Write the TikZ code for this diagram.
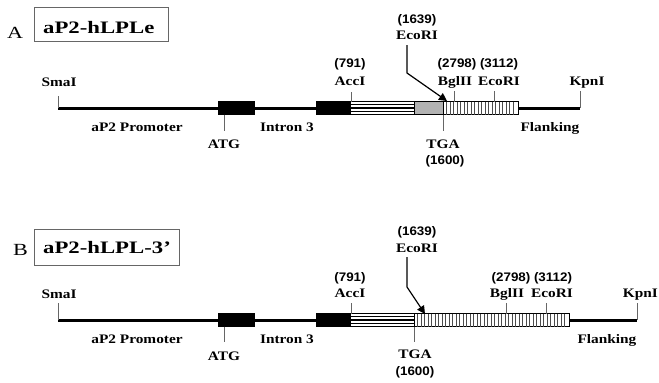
\documentclass[tikz,border=0pt]{standalone}
\usepackage{fontspec}
\setmainfont{Liberation Serif}
\newfontfamily\lblfont[FakeStretch=1.18]{Liberation Serif}
\newfontfamily\numfont[FakeStretch=1.08]{Liberation Sans}
\newfontfamily\ttlfont[FakeStretch=1.3]{Liberation Serif}
\usetikzlibrary{arrows.meta,positioning}

\begin{document}
\begin{tikzpicture}[x=1pt,y=-1pt,>=Latex,
  lbl/.style={font=\lblfont\bfseries\fontsize{13}{15}\selectfont,inner sep=0pt,anchor=base},
  num/.style={font=\numfont\bfseries\fontsize{12.4}{14}\selectfont,inner sep=0pt,anchor=base},
  panel/.style={font=\ttlfont\fontsize{17}{19}\selectfont,inner sep=0pt,anchor=base west},
  title/.style={draw=black!60,line width=0.8pt,inner sep=0pt},
  ttltext/.style={font=\ttlfont\bfseries\fontsize{17.5}{20}\selectfont,inner sep=0pt,anchor=base west},
  backbone/.style={line width=3pt},
  exon/.style={fill=black,draw=black},
  site/.style={black!60,line width=0.8pt},
  hstripe/.style={line width=1.1pt},
  vstripe/.style={black!70,line width=0.6pt},
  cutarrow/.style={->,line width=1.2pt,>={Triangle[length=8pt,width=8pt]}}]
\useasboundingbox (0,0) rectangle (659,383);

% ---------- panel A ----------
\node[panel] (labA) at (7,38) {A};
\node[title,minimum width=134pt,minimum height=34pt] (ttlA) at (101,24) {};
\node[ttltext] (ttlAtxt) at (43,33) {aP2-hLPLe};

\coordinate (smaA) at (58,108);
\coordinate (kpnA) at (580,108);
\draw[backbone] (smaA) -- (kpnA);
\draw[exon] (218,101.5) rectangle (254,114.5);
\draw[exon] (316,101.5) rectangle (351,114.5);
% 5' coding part, horizontal stripes
\fill[white] (351,101.5) rectangle (414,114.5);
\foreach \y in {101.5,104.75,...,115} \draw[hstripe] (351,\y) -- (414,\y);
% 3' UTR kept part
\draw[fill=black!30,line width=0.8pt] (414,101.5) rectangle (443,114.5);
% 3' UTR, vertical stripes
\draw[fill=white,line width=0.8pt] (443,101.5) rectangle (518,114.5);
\foreach \x in {446.5,450,...,516} \draw[vstripe] (\x,101.5) -- (\x,114.5);

\draw[site] (smaA) -- ++(0,-12);
\draw[site] (kpnA) -- ++(0,-17);
\draw[site] (224,114.5) -- (224,131);
\draw[site] (351,101.5) -- (351,92);
\draw[site] (443,114.5) -- (443,131);
\draw[site] (454,101.5) -- (454,91);
\draw[site] (494,101.5) -- (494,91);

\node[lbl] (smaAl) at (59,86) {SmaI};
\node[lbl] (proA) at (137,131) {aP2 Promoter};
\node[lbl] (atgA) at (224,148) {ATG};
\node[lbl] (intA) at (287,131) {Intron 3};
\node[num] (n791A) at (350,67) {(791)};
\node[lbl] (accA) at (350,85) {AccI};
\node[num] (n1639A) at (417,23) {(1639)};
\node[lbl] (ecoA) at (417,39.5) {EcoRI};
\node[num] (n2798A) at (457,67) {(2798)};
\node[lbl] (bglA) at (455,85) {BglII};
\node[num] (n3112A) at (499,67) {(3112)};
\node[lbl] (eco2A) at (499,85) {EcoRI};
\node[lbl] (kpnAl) at (587,85) {KpnI};
\node[lbl] (tgaA) at (443,148) {TGA};
\node[num] (n1600A) at (445,164) {(1600)};
\node[lbl] (flkA) at (550,131) {Flanking};

\coordinate (cutA) at (407,45);
\coordinate (bendA) at (407,73);
\coordinate (tipA) at (447,101);
\draw[cutarrow] (cutA) -- (bendA) -- (tipA);

% ---------- panel B ----------
\node[panel] (labB) at (13,255) {B};
\node[title,minimum width=145pt,minimum height=36pt] (ttlB) at (106.5,247) {};
\node[ttltext] (ttlBtxt) at (43,253) {aP2-hLPL-3’};

\coordinate (smaB) at (58,320);
\coordinate (kpnB) at (637,320);
\draw[backbone] (smaB) -- (kpnB);
\draw[exon] (218,313.5) rectangle (254,326.5);
\draw[exon] (316,313.5) rectangle (351,326.5);
\fill[white] (351,313.5) rectangle (414,326.5);
\foreach \y in {313.5,316.75,...,327} \draw[hstripe] (351,\y) -- (414,\y);
\draw[fill=white,line width=0.8pt] (414,313.5) rectangle (569,326.5);
\foreach \x in {417.5,421,...,567} \draw[vstripe] (\x,313.5) -- (\x,326.5);

\draw[site] (smaB) -- ++(0,-17);
\draw[site] (kpnB) -- ++(0,-17);
\draw[site] (224,326.5) -- (224,342);
\draw[site] (351,313.5) -- (351,303);
\draw[site] (414,326.5) -- (414,342);
\draw[site] (506,313.5) -- (506,303);
\draw[site] (546,313.5) -- (546,303);

\node[lbl] (smaBl) at (59,298) {SmaI};
\node[lbl] (proB) at (137,343) {aP2 Promoter};
\node[lbl] (atgB) at (224,360) {ATG};
\node[lbl] (intB) at (287,343) {Intron 3};
\node[num] (n791B) at (350,281) {(791)};
\node[lbl] (accB) at (350,297) {AccI};
\node[num] (n1639B) at (417,235) {(1639)};
\node[lbl] (ecoB) at (417,252) {EcoRI};
\node[num] (n2798B) at (511,281) {(2798)};
\node[lbl] (bglB) at (507,297) {BglII};
\node[num] (n3112B) at (553,281) {(3112)};
\node[lbl] (eco2B) at (552,297) {EcoRI};
\node[lbl,anchor=base east] (kpnBl) at (658,297) {KpnI};
\node[lbl] (tgaB) at (415,358) {TGA};
\node[num] (n1600B) at (415,375) {(1600)};
\node[lbl] (flkB) at (607,343) {Flanking};

\coordinate (cutB) at (407,257);
\coordinate (bendB) at (407,287);
\coordinate (tipB) at (425,314);
\draw[cutarrow] (cutB) -- (bendB) -- (tipB);
\end{tikzpicture}
\end{document}
